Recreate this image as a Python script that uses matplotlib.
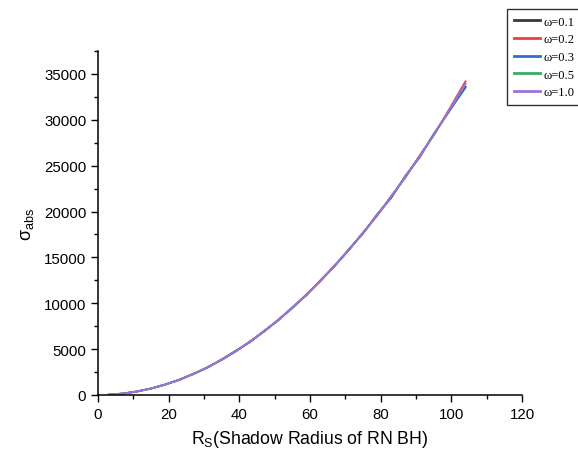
import matplotlib.pyplot as plt
from matplotlib.ticker import AutoMinorLocator

# shadow radius values
rs = [3, 7, 11, 15, 19, 23, 27, 31, 35, 39, 43, 47, 51, 55, 59, 63, 67, 71,
      75, 79, 83, 87, 91, 95, 99, 104]

# absorption cross section for each omega
sigma_01 = [30, 150, 390, 700, 1150, 1640, 2320, 2990, 3880, 4830, 5760, 6990,
            8130, 9560, 10880, 12530, 14060, 15900, 17600, 19700, 21500, 23900,
            25900, 28450, 30700, 33600]
sigma_02 = [28, 160, 375, 715, 1120, 1680, 2280, 3040, 3820, 4760, 5850, 6910,
            8210, 9460, 10990, 12420, 14150, 15780, 17720, 19540, 21700, 23700,
            26100, 28300, 30900, 34200]
sigma_03 = [27, 155, 382, 705, 1138, 1658, 2295, 3012, 3855, 4770, 5815, 6945,
            8165, 9510, 10930, 12475, 14095, 15845, 17660, 19610, 21630, 23790,
            26000, 28370, 30770, 33500]
sigma_05 = [28, 154, 380, 707, 1134, 1662, 2290, 3019, 3848, 4778, 5809, 6940,
            8171, 9503, 10936, 12469, 14103, 15837, 17671, 19607, 21642, 23779,
            26016, 28353, 30791, 33900]
sigma_10 = [29, 153, 381, 708, 1133, 1663, 2291, 3020, 3849, 4777, 5808, 6941,
            8170, 9504, 10935, 12470, 14102, 15838, 17670, 19606, 21643, 23778,
            26017, 28352, 30790, 33950]

labels = ["\u03c9=0.1", "\u03c9=0.2", "\u03c9=0.3", "\u03c9=0.5", "\u03c9=1.0"]
colors = ["#3a3a3a", "#f03c3c", "#2f6fd4", "#3caa64", "#a070e0"]
series = [sigma_01, sigma_02, sigma_03, sigma_05, sigma_10]

plt.rcParams["font.family"] = ["Liberation Sans", "DejaVu Sans"]

fig = plt.figure(figsize=(5.78, 4.52), dpi=100)
ax = fig.add_axes([0.1696, 0.1239, 0.7336, 0.7611])

for ys, lab, col in zip(series, labels, colors):
    ax.plot(rs, ys, color=col, lw=1.3, label=lab)

ax.set_xlim(0, 120)
ax.set_ylim(0, 37500)
ax.set_xticks(range(0, 121, 20))
ax.set_yticks(range(0, 35001, 5000))
ax.xaxis.set_minor_locator(AutoMinorLocator(2))
ax.yaxis.set_minor_locator(AutoMinorLocator(2))
ax.tick_params(which="major", direction="out", length=5, width=1, labelsize=10.8)
ax.tick_params(which="minor", direction="out", length=3, width=1)
for side in ("top", "right"):
    ax.spines[side].set_visible(False)
for side in ("left", "bottom"):
    ax.spines[side].set_linewidth(1.1)

ax.set_xlabel("R$_\\mathregular{S}$(Shadow Radius of RN BH)", fontsize=12.7, labelpad=5)
ax.set_ylabel("\u03c3$_\\mathregular{abs}$", fontsize=13, labelpad=6)

leg = fig.legend(loc="upper left", bbox_to_anchor=(0.877, 0.978),
                 prop={"family": "Liberation Serif", "size": 9},
                 frameon=True, fancybox=False, edgecolor="black",
                 handlelength=2.1, handletextpad=0.25, borderpad=0.55,
                 labelspacing=0.45, borderaxespad=0)
leg.get_frame().set_linewidth(1.0)
for line in leg.get_lines():
    line.set_linewidth(2.0)

fig.savefig("out.png", dpi=100)
